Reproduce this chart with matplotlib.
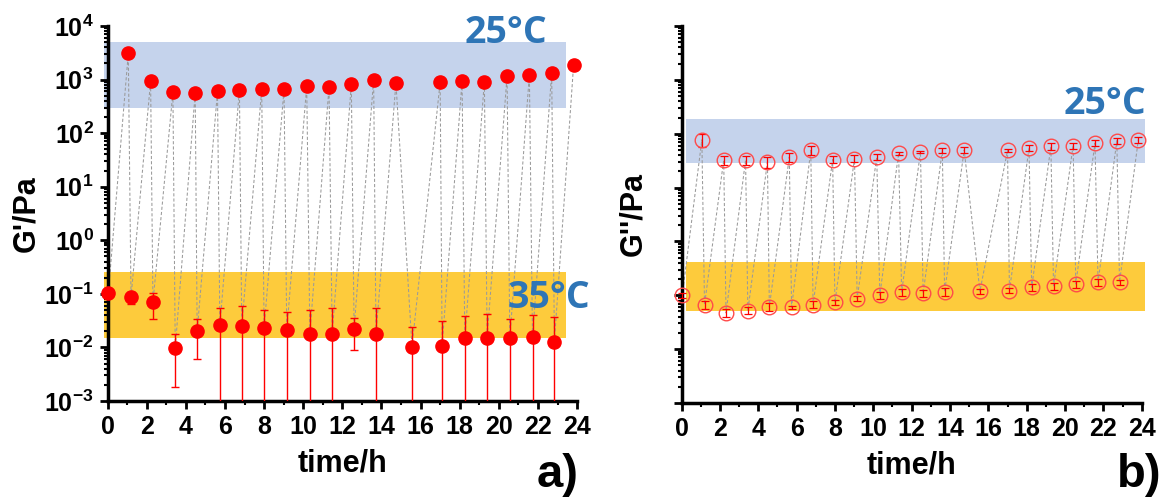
import numpy as np
import matplotlib
matplotlib.use("Agg")
import matplotlib.pyplot as plt
from matplotlib.ticker import MultipleLocator, LogLocator, FuncFormatter, NullFormatter

# ----------------------------
# Data
# ----------------------------
# times of the 25 C (high) and 35 C (low) measurements, in hours
t_hi = [1.06, 2.20, 3.34, 4.48, 5.62, 6.74, 7.88, 9.02, 10.18, 11.32,
        12.46, 13.60, 14.74, 17.00, 18.12, 19.26, 20.42, 21.56, 22.70, 23.82]
t_lo = [0.04, 1.20, 2.32, 3.46, 4.58, 5.74, 6.86, 8.00, 9.16, 10.34,
        11.48, 12.60, 13.72, 15.56, 17.10, 18.26, 19.40, 20.56, 21.72, 22.84]

# panel a) G'
Gp_hi = [3100, 930, 575, 565, 600, 645, 660, 660, 760, 730,
         820, 1000, 870, 890, 950, 920, 1170, 1230, 1320, 1870]
Gp_lo = [0.103, 0.087, 0.069, 0.0098, 0.020, 0.026, 0.025, 0.023, 0.021, 0.018,
         0.0175, 0.0225, 0.0175, 0.0104, 0.0107, 0.0148, 0.0153, 0.0148, 0.0155, 0.0129]
Gp_lo_err = [0.004, 0.022, 0.035, 0.008, 0.014, 0.029, 0.035, 0.026, 0.025, 0.032,
             0.036, 0.0135, 0.036, 0.0136, 0.021, 0.024, 0.027, 0.019, 0.024, 0.024]

# panel b) G''
Gpp_hi = [77, 32.5, 32.5, 30, 37, 49, 33, 34.5, 37, 43.5,
          46, 49, 50, 49, 54, 58, 60, 67, 74, 77]
Gpp_hi_err = [20, 6, 6, 7, 7, 9, 5, 5, 5, 3, 2, 5, 6, 3, 7, 8, 8, 9, 9, 10]
Gpp_lo = [0.10, 0.067, 0.047, 0.052, 0.061, 0.060, 0.067, 0.074, 0.087, 0.10,
          0.115, 0.108, 0.116, 0.119, 0.122, 0.14, 0.15, 0.163, 0.175, 0.175]
Gpp_lo_err = [0.01, 0.012, 0.008, 0.008, 0.011, 0.004, 0.01, 0.008, 0.01, 0.015,
              0.018, 0.015, 0.02, 0.014, 0.012, 0.02, 0.022, 0.025, 0.025, 0.02]

# shaded temperature bands (ymin, ymax) and their time span
band_a_25 = (300, 5000)
band_a_35 = (0.015, 0.26)
band_a_t = (-0.2, 23.45)
band_b_25 = (29, 190)
band_b_35 = (0.05, 0.42)
band_b_t = (0.23, 24.15)

BLUE_BAND = "#c5d3ec"
ORANGE_BAND = "#fdcb3c"
TEXT_BLUE = "#2e75b6"

plt.rcParams["font.family"] = ["Liberation Sans", "DejaVu Sans"]
plt.rcParams["font.weight"] = "bold"
plt.rcParams["mathtext.fontset"] = "custom"
plt.rcParams["mathtext.rm"] = "Liberation Sans:bold"
plt.rcParams["mathtext.bf"] = "Liberation Sans:bold"
plt.rcParams["mathtext.it"] = "Liberation Sans:bold"


def zigzag(t_lo, y_lo, t_hi, y_hi):
    # measurement order: low, high, low, high, ...
    tt, yy = [], []
    for a, b, c, d in zip(t_lo, y_lo, t_hi, y_hi):
        tt += [a, c]
        yy += [b, d]
    return tt, yy


def style_axis(ax, show_ylabels):
    ax.set_yscale("log")
    ax.set_xlim(0, 24)
    ax.set_ylim(1e-3, 1e4)
    for s in ["top", "right"]:
        ax.spines[s].set_visible(False)
    for s in ["left", "bottom"]:
        ax.spines[s].set_linewidth(2.5)
    ax.xaxis.set_major_locator(MultipleLocator(2))
    ax.xaxis.set_minor_locator(MultipleLocator(1))
    ax.yaxis.set_major_locator(LogLocator(base=10, numticks=20))
    ax.yaxis.set_minor_locator(LogLocator(base=10, subs=np.arange(2, 10), numticks=20))
    ax.yaxis.set_minor_formatter(NullFormatter())
    if show_ylabels:
        ax.yaxis.set_major_formatter(FuncFormatter(
            lambda v, p: r"$\mathbf{10^{%d}}$" % int(round(np.log10(v)))))
    else:
        ax.yaxis.set_major_formatter(NullFormatter())
    ax.tick_params(which="major", direction="out", length=6, width=2, labelsize=18, pad=4)
    ax.tick_params(which="minor", direction="out", length=3, width=1.5)
    for lab in ax.get_xticklabels():
        lab.set_fontweight("bold")
    ax.set_xlabel("time/h", fontsize=22, fontweight="bold", labelpad=7)


def band(ax, tspan, ylims, color):
    ax.fill_between(tspan, ylims[0], ylims[1], color=color, lw=0, zorder=0, clip_on=False)


fig = plt.figure(figsize=(11.64, 5.0), dpi=100)
ax_a = fig.add_axes([0.0924, 0.198, 0.4034, 0.75])
ax_b = fig.add_axes([0.5855, 0.194, 0.3954, 0.754])

# ----------------------------
# a) G'
# ----------------------------
band(ax_a, band_a_t, band_a_25, BLUE_BAND)
band(ax_a, band_a_t, band_a_35, ORANGE_BAND)
tt, yy = zigzag(t_lo, Gp_lo, t_hi, Gp_hi)
ax_a.plot(tt, yy, ls=(0, (3, 2)), color="#9a9a9a", lw=0.75, zorder=2, clip_on=False)

lo = np.array(Gp_lo)
err = np.array(Gp_lo_err)
lower = np.minimum(err, lo - 1e-5)
ax_a.errorbar(t_lo, Gp_lo, yerr=[lower, err], fmt="none", ecolor="red",
              elinewidth=1, capsize=3, capthick=1, zorder=3)
ax_a.plot(t_lo, Gp_lo, "o", color="red", ms=9.5, mec="red", zorder=4, clip_on=False)
ax_a.plot(t_hi, Gp_hi, "o", color="red", ms=9.5, mec="red", zorder=4, clip_on=False)

style_axis(ax_a, True)
ax_a.set_ylabel("G'/Pa", fontsize=22, fontweight="bold", labelpad=2)
ax_a.text(22.5, 4800, "25°C", color=TEXT_BLUE, fontsize=27, fontweight="bold",
          family="Open Sans", ha="right", va="baseline")
ax_a.text(24.7, 0.085, "35°C", color=TEXT_BLUE, fontsize=27, fontweight="bold",
          family="Open Sans", ha="right", va="center", clip_on=False)
fig.text(0.497, 0.006, "a)", fontsize=34, fontweight="bold", ha="right", va="bottom")

# ----------------------------
# b) G''
# ----------------------------
band(ax_b, band_b_t, band_b_25, BLUE_BAND)
band(ax_b, band_b_t, band_b_35, ORANGE_BAND)
tt, yy = zigzag(t_lo, Gpp_lo, t_hi, Gpp_hi)
ax_b.plot(tt, yy, ls=(0, (3, 2)), color="#9a9a9a", lw=0.75, zorder=2, clip_on=False)

ax_b.errorbar(t_hi, Gpp_hi, yerr=Gpp_hi_err, fmt="none", ecolor="red",
              elinewidth=0.9, capsize=3, capthick=0.9, zorder=3, clip_on=False)
ax_b.errorbar(t_lo, Gpp_lo, yerr=Gpp_lo_err, fmt="none", ecolor="red",
              elinewidth=0.9, capsize=3, capthick=0.9, zorder=3, clip_on=False)
ax_b.plot(t_hi, Gpp_hi, "o", mfc="none", mec="#ff4a4a", mew=1, ms=10.5, zorder=4, clip_on=False)
ax_b.plot(t_lo, Gpp_lo, "o", mfc="none", mec="#ff4a4a", mew=1, ms=10.5, zorder=4, clip_on=False)

style_axis(ax_b, False)
ax_b.set_ylabel("G''/Pa", fontsize=22, fontweight="bold", labelpad=14)
ax_b.text(24.26, 230, "25°C", color=TEXT_BLUE, fontsize=27, fontweight="bold",
          family="Open Sans", ha="right", va="baseline", clip_on=False)
fig.text(0.998, 0.006, "b)", fontsize=34, fontweight="bold", ha="right", va="bottom")

fig.savefig("out.png", dpi=100)
